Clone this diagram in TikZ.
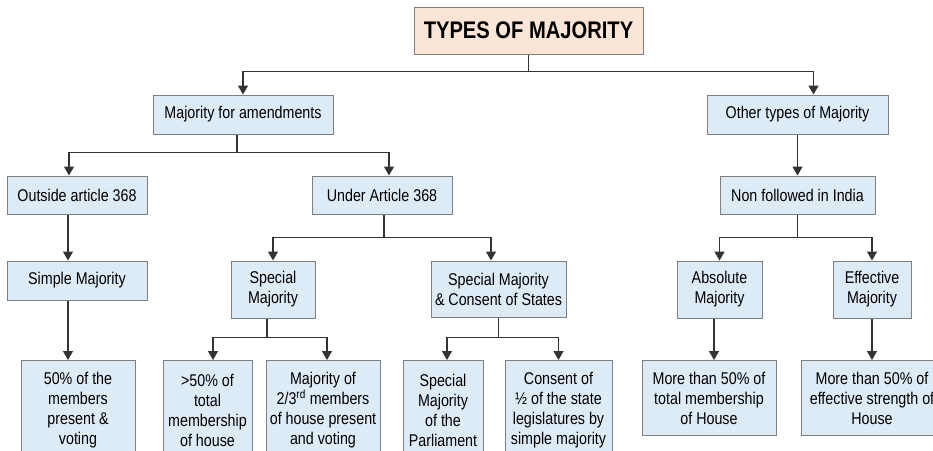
\documentclass[tikz,border=0pt]{standalone}
\usepackage{fontspec}
\newfontfamily\boxfont[FakeStretch=0.84]{Liberation Sans}
\usepackage{tikz}
\usetikzlibrary{arrows.meta}

\definecolor{boxblue}{HTML}{DDEBF7}
\definecolor{titlefill}{HTML}{FBE5D6}
\definecolor{boxline}{HTML}{7F7F7F}
\definecolor{linkcol}{HTML}{333333}

\begin{document}
\begin{tikzpicture}[x=1pt,y=-1pt,
  box/.style={draw=boxline,fill=boxblue,line width=1pt,align=center,inner sep=0pt,
    font=\boxfont\fontsize{17}{20}\selectfont},
  titlebox/.style={box,fill=titlefill,font=\boxfont\bfseries\fontsize{24}{26}\selectfont},
  conn/.style={draw=linkcol,line width=1.3pt,-{Triangle[width=10pt,length=9pt]}}]
\useasboundingbox (0,0) rectangle (933,450);
\clip (0,0) rectangle (933,450);
% Types de majorite
\node[titlebox,minimum width=229pt,minimum height=47pt] (title) at (528.5,30.5) {TYPES OF MAJORITY};
\node[box,minimum width=180pt,minimum height=39pt] (mfa) at (243,114.5) {Majority for amendments};
\node[box,minimum width=181pt,minimum height=39pt] (other) at (797.5,114.5) {Other types of Majority};
\node[box,minimum width=140pt,minimum height=38pt] (outside) at (77,195) {Outside article 368};
\node[box,minimum width=140pt,minimum height=38pt] (under) at (382,195) {Under Article 368};
\node[box,minimum width=155pt,minimum height=38pt] (nonf) at (797.5,195) {Non followed in India};
\node[box,minimum width=140pt,minimum height=39pt] (simple) at (77,280.5) {Simple Majority};
\node[box,minimum width=84pt,minimum height=57pt] (special) at (273,289.5) {Special\\Majority};
\node[box,minimum width=135pt,minimum height=56pt] (spcons) at (498.5,289) {Special Majority\\\& Consent of States};
\node[box,minimum width=85pt,minimum height=57pt] (absolute) at (719.5,289.5) {Absolute\\Majority};
\node[box,minimum width=78pt,minimum height=57pt] (effective) at (872,289.5) {Effective\\Majority};
% derniere ligne
\node[box,anchor=north,minimum width=114pt,minimum height=100pt] (s50) at (78,360) {50\% of the\\members\\present \&\\voting};
\node[box,anchor=north,minimum width=89pt,minimum height=100pt] (gt50) at (207.5,360) {>50\% of\\total\\membership\\of house};
\node[box,anchor=north,minimum width=114pt,minimum height=100pt] (twothird) at (323,360) {Majority of\\2/3\textsuperscript{rd} members\\of house present\\and voting};
\node[box,anchor=north,minimum width=80pt,minimum height=100pt] (spparl) at (443,360) {Special\\Majority\\of the\\Parliament};
\node[box,anchor=north,minimum width=107pt,minimum height=100pt] (consent) at (558.5,360) {Consent of\\½ of the state\\legislatures by\\simple majority};
\node[box,anchor=north,minimum width=134pt,minimum height=75pt] (more1) at (709,360) {More than 50\% of\\total membership\\of House};
\node[box,anchor=north,minimum width=142pt,minimum height=75pt] (more2) at (872,360) {More than 50\% of\\effective strength of\\House};
% liens
\draw[conn] (title.south) -- ++(0,17) -| (mfa.north);
\draw[conn] (title.south) -- ++(0,17) -| ([xshift=16pt]other.north);
\draw[conn] ([xshift=-6pt]mfa.south) -- ++(0,18) -| ([xshift=-8pt]outside.north);
\draw[conn] ([xshift=-6pt]mfa.south) -- ++(0,18) -| ([xshift=7pt]under.north);
\draw[conn] ([xshift=-9pt]outside.south) -- ([xshift=-9pt]simple.north);
\draw[conn] ([xshift=-9pt]simple.south) -- ([xshift=-10pt]s50.north);
\draw[conn] ([xshift=2pt]under.south) -- ++(0,23) -| (special.north);
\draw[conn] ([xshift=2pt]under.south) -- ++(0,23) -| ([xshift=-7.5pt]spcons.north);
\draw[conn] ([xshift=-6pt]special.south) -- ++(0,19) -| ([xshift=5.5pt]gt50.north);
\draw[conn] ([xshift=-6pt]special.south) -- ++(0,19) -| ([xshift=4pt]twothird.north);
\draw[conn] (spcons.south) -- ++(0,20) -| ([xshift=4pt]spparl.north);
\draw[conn] (spcons.south) -- ++(0,20) -| (consent.north);
\draw[conn] (other.south) -- (nonf.north);
\draw[conn] (nonf.south) -- ++(0,23) -| (absolute.north);
\draw[conn] (nonf.south) -- ++(0,23) -| (effective.north);
\draw[conn] ([xshift=-5.5pt]absolute.south) -- ([xshift=5pt]more1.north);
\draw[conn] (effective.south) -- (more2.north);
\end{tikzpicture}
\end{document}
